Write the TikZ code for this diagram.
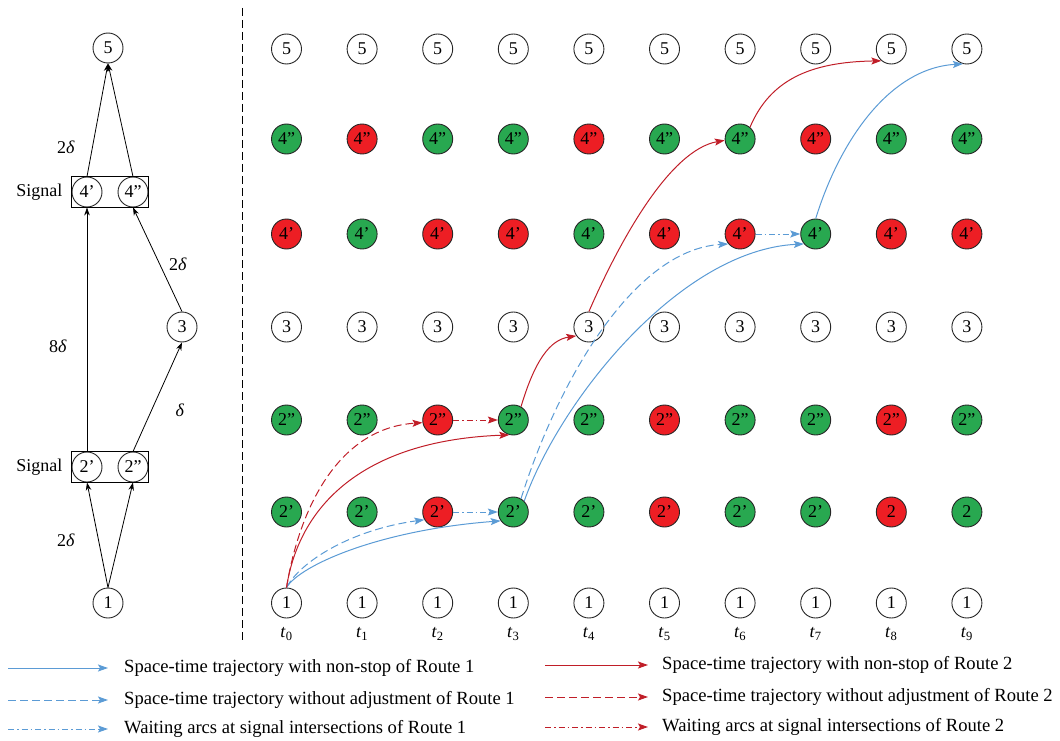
\documentclass[tikz,border=0pt]{standalone}
\usepackage{fontspec}
\setmainfont{Liberation Serif}
\usetikzlibrary{arrows.meta}
\definecolor{routeblue}{RGB}{91,155,213}
\definecolor{routered}{RGB}{192,30,40}
\definecolor{sigred}{RGB}{237,30,36}
\definecolor{siggreen}{RGB}{40,168,80}
\newcommand\lblfont{\fontsize{18}{21}\selectfont}
\newcommand\legfont{\fontsize{18.6}{21}\selectfont}

\begin{document}
\begin{tikzpicture}[x=1pt, y=-1pt,
  stn/.style={circle, draw=black!85, line width=0.9pt, minimum size=30pt, inner sep=0pt, font=\lblfont},
  lab/.style={font=\lblfont, inner sep=1pt},
  legtxt/.style={font=\legfont, inner sep=0pt, anchor=west},
  lnk/.style={line width=0.8pt, -{Stealth[length=8pt, width=5.5pt]}},
  bluego/.style={routeblue, line width=1pt, -{Stealth[length=10pt, width=7pt, inset=2pt]}},
  bluenoadj/.style={bluego, dash pattern=on 8pt off 4pt},
  bluewait/.style={bluego, dash pattern=on 6pt off 3pt on 1.5pt off 3pt},
  redgo/.style={routered, line width=1pt, -{Stealth[length=10pt, width=7pt, inset=2pt]}},
  rednoadj/.style={redgo, dash pattern=on 8pt off 4pt},
  redwait/.style={redgo, dash pattern=on 6pt off 3pt on 1.5pt off 3pt}
]
  \useasboundingbox (0,0) rectangle (1060,741);

  % road network
  \node[stn] (L5) at (108,48) {5};
  \node[stn] (L4a) at (87,192) {4'};
  \node[stn] (L4b) at (133,192) {4''};
  \node[stn] (L3) at (182,327) {3};
  \node[stn] (L2a) at (87,467) {2'};
  \node[stn] (L2b) at (133,467) {2''};
  \node[stn] (L1) at (108,603) {1};
  \draw[line width=0.9pt] (L4a.west |- L4a.north) rectangle (L4b.east |- L4b.south);
  \draw[line width=0.9pt] (L2a.west |- L2a.north) rectangle (L2b.east |- L2b.south);
  \node[lab, anchor=east] (sigtop) at ([xshift=-8pt]L4a.west) {Signal};
  \node[lab, anchor=east] (sigbot) at ([xshift=-8pt]L2a.west) {Signal};

  \draw[lnk] (L1.north) -- (L2a.south);
  \draw[lnk] (L1.north) -- (L2b.south);
  \draw[lnk] (L2a.north) -- (L4a.south);
  \draw[lnk] (L2b.north) -- (L3.south);
  \draw[lnk] (L3.north) -- (L4b.south);
  \draw[lnk] (L4a.north) -- (L5.south);
  \draw[lnk] (L4b.north) -- (L5.south);

  \node[lab] (d45) at (66,147) {2\textit{δ}};
  \node[lab] (d34) at (178,264) {2\textit{δ}};
  \node[lab] (d24) at (58,346) {8\textit{δ}};
  \node[lab] (d23) at (180,410) {\textit{δ}};
  \node[lab] (d12) at (66,540) {2\textit{δ}};

  \draw[line width=0.8pt, dash pattern=on 8pt off 4pt] (242,8) -- (242,640);

  % space-time network
  \foreach \c [count=\i from 0] in {white,white,white,white,white,white,white,white,white,white}
    \node[stn, fill=\c] (r5-\i) at (286.5+75.6*\i, 49) {5};
  \foreach \c [count=\i from 0] in {siggreen,sigred,siggreen,siggreen,sigred,siggreen,siggreen,sigred,siggreen,siggreen}
    \node[stn, fill=\c] (r4b-\i) at (286.5+75.6*\i, 139) {4''};
  \foreach \c [count=\i from 0] in {sigred,siggreen,sigred,sigred,siggreen,sigred,sigred,siggreen,sigred,sigred}
    \node[stn, fill=\c] (r4a-\i) at (286.5+75.6*\i, 234) {4'};
  \foreach \c [count=\i from 0] in {white,white,white,white,white,white,white,white,white,white}
    \node[stn, fill=\c] (r3-\i) at (286.5+75.6*\i, 327) {3};
  \foreach \c [count=\i from 0] in {siggreen,siggreen,sigred,siggreen,siggreen,sigred,siggreen,siggreen,sigred,siggreen}
    \node[stn, fill=\c] (r2b-\i) at (286.5+75.6*\i, 420) {2''};
  \foreach \c/\t [count=\i from 0] in {siggreen/2',siggreen/2',sigred/2',siggreen/2',siggreen/2',sigred/2',siggreen/2',siggreen/2',sigred/2,siggreen/2}
    \node[stn, fill=\c] (r2a-\i) at (286.5+75.6*\i, 512) {\t};
  \foreach \c [count=\i from 0] in {white,white,white,white,white,white,white,white,white,white}
    \node[stn, fill=\c] (r1-\i) at (286.5+75.6*\i, 603) {1};
  \foreach \i in {0,...,9}
    \node[lab] (t\i) at (286.5+75.6*\i, 634) {\textit{t}\textsubscript{\i}};

  % route 1
  \draw[bluego] (r1-0.north) .. controls (300,565) and (380,530) .. (r2a-3.215);
  \draw[bluenoadj] (r1-0.north) .. controls (300,562) and (350,530) .. (r2a-2.210);
  \draw[bluewait] (r2a-2) -- (r2a-3);
  \draw[bluego] (r2a-3.45) .. controls (560,400) and (680,250) .. (r4a-7.220);
  \draw[bluenoadj] (r2a-3.60) .. controls (555,390) and (630,250) .. (r4a-6.220);
  \draw[bluewait] (r4a-6) -- (r4a-7);
  \draw[bluego] (r4a-7.north) .. controls (840,140) and (890,68) .. (r5-9.255);

  % route 2
  \draw[redgo] (r1-0.north) .. controls (300,500) and (370,440) .. (r2b-3.255);
  \draw[rednoadj] (r1-0.north) .. controls (300,505) and (340,428) .. (r2b-2.190);
  \draw[redwait] (r2b-2) -- (r2b-3);
  \draw[redgo] (r2b-3.60) .. controls (535,360) and (550,340) .. (r3-4.215);
  \draw[redgo] (r3-4.north) .. controls (620,240) and (670,150) .. (r4b-6.185);
  \draw[redgo] (r4b-6.50) .. controls (770,80) and (810,62) .. (r5-8.230);

  % legend
  \node[legtxt] (lg1) at (124,668) {Space-time trajectory with non-stop of Route 1};
  \node[legtxt] (lg2) at (124,700) {Space-time trajectory without adjustment of Route 1};
  \node[legtxt] (lg3) at (124,729) {Waiting arcs at signal intersections of Route 1};
  \node[legtxt] (lg4) at (662,665) {Space-time trajectory with non-stop of Route 2};
  \node[legtxt] (lg5) at (662,697) {Space-time trajectory without adjustment of Route 2};
  \node[legtxt] (lg6) at (662,727) {Waiting arcs at signal intersections of Route 2};
  \draw[bluego] ([xshift=-116pt]lg1.west) -- ([xshift=-16pt]lg1.west);
  \draw[bluenoadj] ([xshift=-116pt]lg2.west) -- ([xshift=-16pt]lg2.west);
  \draw[bluewait] ([xshift=-116pt]lg3.west) -- ([xshift=-16pt]lg3.west);
  \draw[redgo] ([xshift=-117pt]lg4.west) -- ([xshift=-14pt]lg4.west);
  \draw[rednoadj] ([xshift=-117pt]lg5.west) -- ([xshift=-14pt]lg5.west);
  \draw[redwait] ([xshift=-117pt]lg6.west) -- ([xshift=-14pt]lg6.west);
\end{tikzpicture}
\end{document}
